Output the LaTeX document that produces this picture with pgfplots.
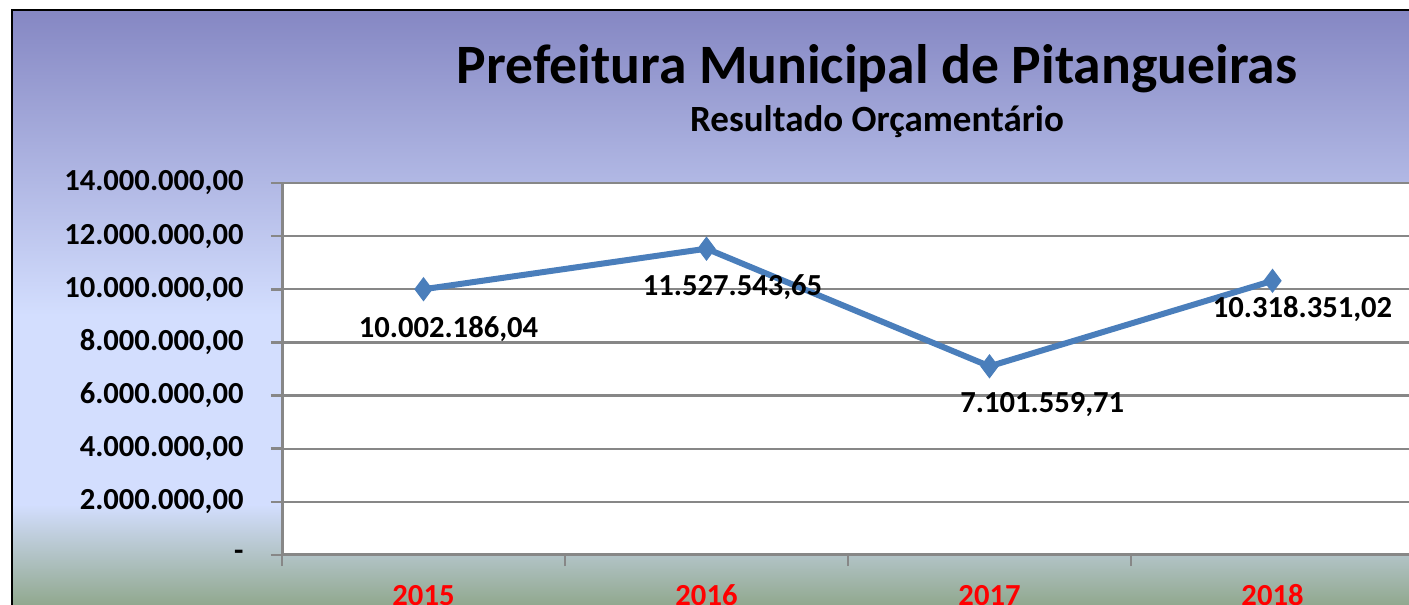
\documentclass[border=0pt]{standalone}
\usepackage{pgfplots}
\pgfplotsset{compat=1.18}
\usepackage{pgfplotstable}
\usepackage{fontspec}
\setmainfont{Carlito}
\definecolor{bgA}{HTML}{8587C3}
\definecolor{bgB}{HTML}{D3DEFE}
\definecolor{bgC}{HTML}{8EA68A}
\definecolor{axgray}{HTML}{878787}
\definecolor{serie}{HTML}{4A7EBB}
\pgfplotstableread{
x y lab dx dy
0 10002186.04 10.002.186,04 12.5 -23.9
1 11527543.65 11.527.543,65 13.0 -23.3
2 7101559.71 7.101.559,71 26.4 -23.3
3 10318351.02 10.318.351,02 15.0 -18.3
}\dados
\begin{document}
\begin{tikzpicture}
\useasboundingbox (0,0) rectangle (704.5pt,302.5pt);
\clip (0,0) rectangle (704.5pt,302.5pt);
\fill[white] (0,0) rectangle (704.5pt,302.5pt);
\shade[top color=bgA, bottom color=bgB] (6pt,145pt) rectangle (712pt,297.5pt);
\fill[bgB] (6pt,50pt) rectangle (712pt,145.2pt);
\shade[top color=bgB, bottom color=bgC] (6pt,-2pt) rectangle (712pt,50.2pt);
\draw[black, line width=1pt] (6pt,-5pt) -- (6pt,297.5pt) -- (712pt,297.5pt);
\node[anchor=base, font=\fontsize{27.8}{30}\selectfont\bfseries] at (438.5pt,260.5pt) {Prefeitura Municipal de Pitangueiras};
\node[anchor=base, font=\fontsize{18.5}{20}\selectfont\bfseries] at (438.5pt,236.5pt) {Resultado Orçamentário};
\begin{axis}[
  at={(141pt,25pt)}, anchor=south west,
  scale only axis, width=566pt, height=186pt,
  xmin=-0.5, xmax=3.5, ymin=0, ymax=14000000,
  axis background/.style={fill=white},
  axis x line*=bottom, axis y line*=left,
  axis line style={draw=axgray, line width=1.5pt, -},
  ymajorgrids, grid style={draw=axgray, line width=1.2pt},
  ytick={0,2000000,4000000,6000000,8000000,10000000,12000000,14000000},
  yticklabels={{-\hspace{7pt}},{2.000.000,00},{4.000.000,00},{6.000.000,00},{8.000.000,00},{10.000.000,00},{12.000.000,00},{14.000.000,00}},
  scaled y ticks=false,
  xtick={-0.5,0.5,1.5,2.5,3.5}, xticklabels={},
  extra x ticks={0,1,2,3},
  extra x tick labels={2015,2016,2017,2018},
  extra x tick style={major tick length=0pt, grid=none,
     tick label style={text=red, anchor=base, inner sep=0pt, yshift=-25pt}},
  tick align=outside, major tick length=5.5pt,
  tick style={draw=axgray, line width=1.3pt},
  tick label style={font=\fontsize{15.3}{16}\selectfont\bfseries},
  yticklabel style={anchor=east, inner sep=0pt, xshift=-13.5pt},
  clip=false,
  nodes near coords, point meta=explicit symbolic,
  visualization depends on={\thisrow{dx} \as \dx},
  visualization depends on={\thisrow{dy} \as \dy},
  every node near coord/.style={anchor=base, inner sep=0pt, xshift=\dx pt, yshift=\dy pt,
     font=\fontsize{15.3}{16}\selectfont\bfseries, text=black},
]
\addplot[serie, line width=3pt, mark=diamond*, mark size=5.7pt,
  mark options={fill=serie, draw=serie, line width=0.5pt}]
  table[x=x, y=y, meta=lab] {\dados};
\end{axis}
\end{tikzpicture}
\end{document}
